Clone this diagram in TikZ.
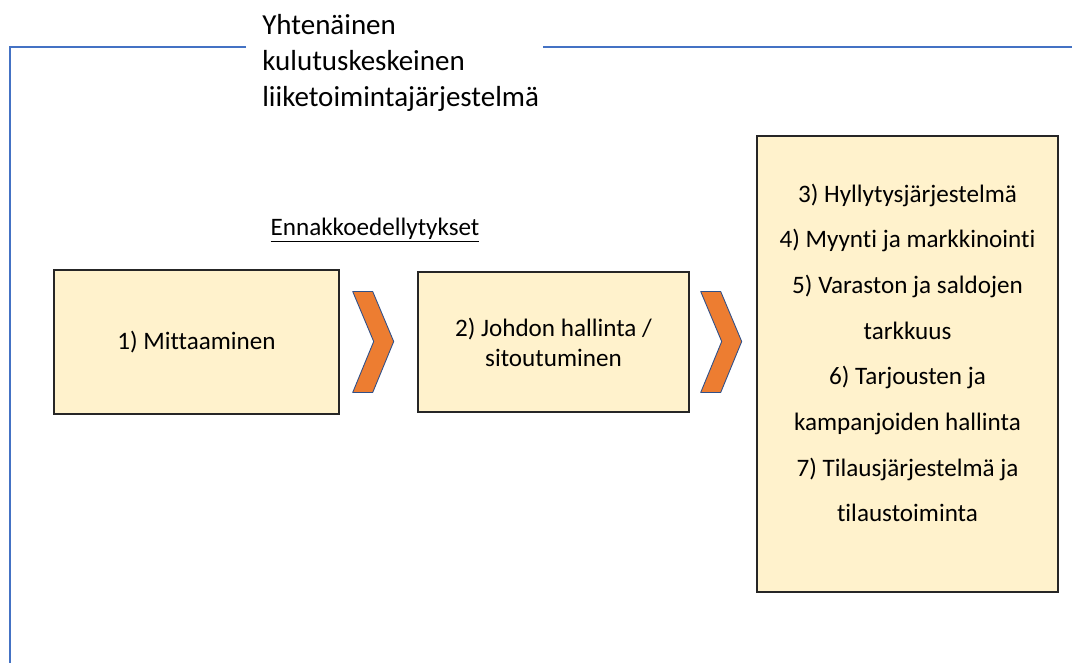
\documentclass[tikz,border=0pt]{standalone}
\usepackage{fontspec}
\setmainfont{Carlito}[Ligatures=NoCommon]
\usetikzlibrary{calc}
\definecolor{boxfill}{HTML}{FFF2CC}
\definecolor{frameblue}{HTML}{4472C4}
\definecolor{chevorange}{HTML}{ED7D31}

\begin{document}
\begin{tikzpicture}[x=0.02cm, y=-0.02cm,
    box/.style={draw=black!85, line width=0.8pt, fill=boxfill, align=center,
      font=\fontsize{14.3}{17}\selectfont, inner sep=0pt},
    chevron/.style={fill=chevorange, draw=frameblue!70!black, line width=0.5pt, line join=round}]
  \useasboundingbox (0,0) rectangle (1072,663);
  % frame round the whole system
  \coordinate (FL) at (246,47);
  \coordinate (FR) at (543,47);
  \draw[frameblue, line width=1.2pt] (FL) -- (10,47) -- (10,663);
  \draw[frameblue, line width=1.2pt] (FR) -- (1072,47);
  \node[anchor=north west, inner sep=0pt, align=left, font=\fontsize{16.5}{20.4}\selectfont]
    (title) at (262,14) {Yhtenäinen\\kulutuskeskeinen\\liiketoimintajärjestelmä};
  % prerequisites
  \node[anchor=base, inner sep=0pt, font=\fontsize{14.3}{17}\selectfont]
    (pre) at (375,235) {\underline{Ennakkoedellytykset}};
  \node[box, minimum width=5.7cm, minimum height=2.88cm] (m1) at (196.5,342) {1) Mittaaminen};
  \node[box, minimum width=5.42cm, minimum height=2.8cm] (m2) at (553.5,342) {2) Johdon hallinta /\\sitoutuminen};
  \node[box, minimum width=6.02cm, minimum height=9.12cm] (m3) at (907.5,364) {};
  \node[align=center, inner sep=0pt, font=\fontsize{14.3}{26}\selectfont]
    (list) at ([yshift=0.22cm]m3.center) {3) Hyllytysjärjestelmä\\4) Myynti ja markkinointi\\
      5) Varaston ja saldojen\\tarkkuus\\6) Tarjousten ja\\kampanjoiden hallinta\\
      7) Tilausjärjestelmä ja\\tilaustoiminta};
  % chevrons
  \foreach \x in {352.7,700.7}
    \draw[chevron] (\x,291.5) -- ++(20,0) -- ++(21,50) -- ++(-21,51) -- ++(-20,0) -- ++(21,-51) -- cycle;
\end{tikzpicture}
\end{document}
